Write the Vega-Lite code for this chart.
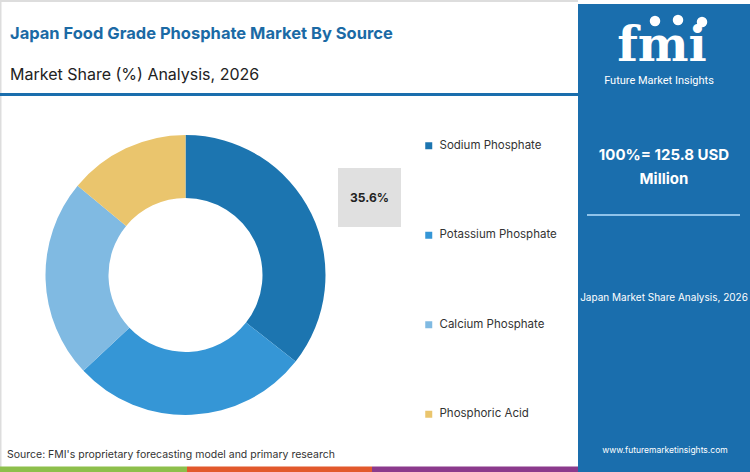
{
  "$schema": "https://vega.github.io/schema/vega-lite/v6.json",
  "width": 750,
  "height": 472,
  "padding": 0,
  "autosize": {"type": "fit", "contains": "padding"},
  "background": "white",
  "config": {
    "view": {"stroke": null},
    "font": "Inter",
    "legend": {
      "orient": "none",
      "legendX": 423,
      "legendY": 140,
      "title": null,
      "symbolType": "square",
      "symbolSize": 49,
      "symbolStrokeWidth": 0,
      "labelFont": "Inter",
      "labelFontSize": 11.5,
      "labelColor": "#333333",
      "labelOffset": 5,
      "rowPadding": 76.5
    }
  },
  "data": {
    "values": [
      {"source": "Sodium Phosphate", "share": 35.6},
      {"source": "Potassium Phosphate", "share": 27.4},
      {"source": "Calcium Phosphate", "share": 23.0},
      {"source": "Phosphoric Acid", "share": 14.0}
    ]
  },
  "layer": [
    {
      "data": {"values": [{}]},
      "mark": {"type": "rect", "color": "#dddddd"},
      "encoding": {
        "x": {"datum": 0, "type": "quantitative", "scale": {"domain": [0, 750], "nice": false, "zero": false}, "axis": null},
        "x2": {"datum": 578},
        "y": {"datum": 0, "type": "quantitative", "scale": {"domain": [0, 472], "nice": false, "zero": false, "reverse": true}, "axis": null},
        "y2": {"datum": 2}
      }
    },
    {
      "data": {"values": [{}]},
      "mark": {"type": "rect", "color": "#dddddd"},
      "encoding": {
        "x": {"datum": 0, "type": "quantitative"},
        "x2": {"datum": 1.5},
        "y": {"datum": 0, "type": "quantitative"},
        "y2": {"datum": 467}
      }
    },
    {
      "data": {"values": [{}]},
      "mark": {"type": "rect", "color": "#1a6ead"},
      "encoding": {
        "x": {"datum": 0, "type": "quantitative"},
        "x2": {"datum": 578},
        "y": {"datum": 93, "type": "quantitative"},
        "y2": {"datum": 96}
      }
    },
    {
      "data": {"values": [{}]},
      "mark": {"type": "rect", "color": "#1a6ead"},
      "encoding": {
        "x": {"datum": 578, "type": "quantitative"},
        "x2": {"datum": 750},
        "y": {"datum": 4, "type": "quantitative"},
        "y2": {"datum": 472}
      }
    },
    {
      "data": {"values": [{}]},
      "mark": {"type": "rect", "color": "#8dbf4b"},
      "encoding": {
        "x": {"datum": 0, "type": "quantitative"},
        "x2": {"datum": 187},
        "y": {"datum": 466.5, "type": "quantitative"},
        "y2": {"datum": 472}
      }
    },
    {
      "data": {"values": [{}]},
      "mark": {"type": "rect", "color": "#e2592c"},
      "encoding": {
        "x": {"datum": 187, "type": "quantitative"},
        "x2": {"datum": 372},
        "y": {"datum": 466.5, "type": "quantitative"},
        "y2": {"datum": 472}
      }
    },
    {
      "data": {"values": [{}]},
      "mark": {"type": "rect", "color": "#8b3a8c"},
      "encoding": {
        "x": {"datum": 372, "type": "quantitative"},
        "x2": {"datum": 578},
        "y": {"datum": 466.5, "type": "quantitative"},
        "y2": {"datum": 472}
      }
    },
    {
      "data": {"values": [{}]},
      "mark": {"type": "rule", "color": "#8fc3ea", "strokeWidth": 2},
      "encoding": {
        "x": {"datum": 587, "type": "quantitative"},
        "x2": {"datum": 740},
        "y": {"datum": 215, "type": "quantitative"}
      }
    },
    {
      "mark": {"type": "arc", "outerRadius": 140, "innerRadius": 77},
      "encoding": {
        "x": {"datum": 185.5, "type": "quantitative"},
        "y": {"datum": 275, "type": "quantitative"},
        "theta": {"field": "share", "type": "quantitative", "stack": true},
        "order": {"field": "share", "sort": "descending"},
        "color": {
          "field": "source",
          "type": "nominal",
          "sort": ["Sodium Phosphate", "Potassium Phosphate", "Calcium Phosphate", "Phosphoric Acid"],
          "scale": {
            "domain": ["Sodium Phosphate", "Potassium Phosphate", "Calcium Phosphate", "Phosphoric Acid"],
            "range": ["#1c75b0", "#3596d6", "#80bae2", "#eac56d"]
          }
        }
      }
    },
    {
      "data": {"values": [{}]},
      "mark": {"type": "rect", "color": "#e0e0e0"},
      "encoding": {
        "x": {"datum": 338, "type": "quantitative"},
        "x2": {"datum": 401},
        "y": {"datum": 168, "type": "quantitative"},
        "y2": {"datum": 227}
      }
    },
    {
      "transform": [
        {"filter": "datum.source === 'Sodium Phosphate'"},
        {"calculate": "format(datum.share, '.1f') + '%'", "as": "label"}
      ],
      "mark": {"type": "text", "fontSize": 12, "fontWeight": "bold", "color": "#222222", "align": "center", "baseline": "middle"},
      "encoding": {
        "x": {"datum": 369.5, "type": "quantitative"},
        "y": {"datum": 198, "type": "quantitative"},
        "text": {"field": "label"}
      }
    },
    {
      "data": {"values": [{"t": "Japan Food Grade Phosphate Market By Source"}]},
      "mark": {"type": "text", "fontSize": 16.5, "fontWeight": "bold", "color": "#1b6aa5", "align": "left", "baseline": "middle"},
      "encoding": {
        "x": {"datum": 10, "type": "quantitative"},
        "y": {"datum": 34, "type": "quantitative"},
        "text": {"field": "t"}
      }
    },
    {
      "data": {"values": [{"t": "Market Share (%) Analysis, 2026"}]},
      "mark": {"type": "text", "fontSize": 16, "color": "#222222", "align": "left", "baseline": "middle"},
      "encoding": {
        "x": {"datum": 10, "type": "quantitative"},
        "y": {"datum": 75, "type": "quantitative"},
        "text": {"field": "t"}
      }
    },
    {
      "data": {"values": [{"t": "Source: FMI's proprietary forecasting model and primary research"}]},
      "mark": {"type": "text", "fontSize": 10.5, "color": "#333333", "align": "left", "baseline": "middle"},
      "encoding": {
        "x": {"datum": 7, "type": "quantitative"},
        "y": {"datum": 455, "type": "quantitative"},
        "text": {"field": "t"}
      }
    },
    {
      "data": {"values": [{"t": "fmi"}]},
      "mark": {"type": "text", "font": "DejaVu Serif", "fontSize": 48, "fontWeight": "bold", "color": "white", "align": "center", "baseline": "alphabetic"},
      "encoding": {
        "x": {"datum": 662, "type": "quantitative"},
        "y": {"datum": 61, "type": "quantitative"},
        "text": {"field": "t"}
      }
    },
    {
      "data": {"values": [{}]},
      "mark": {"type": "point", "filled": true, "color": "white", "opacity": 1, "size": 110},
      "encoding": {
        "x": {"datum": 655, "type": "quantitative"},
        "y": {"datum": 21, "type": "quantitative"}
      }
    },
    {
      "data": {"values": [{}]},
      "mark": {"type": "point", "filled": true, "color": "white", "opacity": 1, "size": 110},
      "encoding": {
        "x": {"datum": 678, "type": "quantitative"},
        "y": {"datum": 20, "type": "quantitative"}
      }
    },
    {
      "data": {"values": [{}]},
      "mark": {"type": "point", "filled": true, "color": "white", "opacity": 1, "size": 110},
      "encoding": {
        "x": {"datum": 702, "type": "quantitative"},
        "y": {"datum": 22, "type": "quantitative"}
      }
    },
    {
      "data": {"values": [{"t": "Future Market Insights"}]},
      "mark": {"type": "text", "font": "Roboto", "fontSize": 11, "color": "white", "align": "center", "baseline": "middle"},
      "encoding": {
        "x": {"datum": 659, "type": "quantitative"},
        "y": {"datum": 81, "type": "quantitative"},
        "text": {"field": "t"}
      }
    },
    {
      "data": {"values": [{"t": "100%= 125.8 USD"}, {"t": "Million"}]},
      "transform": [{"window": [{"op": "row_number", "as": "line"}]}],
      "mark": {"type": "text", "fontSize": 15, "fontWeight": "bold", "color": "white", "align": "center", "baseline": "middle"},
      "encoding": {
        "x": {"datum": 664, "type": "quantitative"},
        "y": {"datum": 155, "type": "quantitative"},
        "yOffset": {"field": "line", "type": "quantitative", "scale": {"domain": [1, 2], "range": [0, 24]}},
        "text": {"field": "t"}
      }
    },
    {
      "data": {"values": [{"t": "Japan Market Share Analysis, 2026"}]},
      "mark": {"type": "text", "fontSize": 10, "color": "white", "align": "center", "baseline": "middle"},
      "encoding": {
        "x": {"datum": 664, "type": "quantitative"},
        "y": {"datum": 298, "type": "quantitative"},
        "text": {"field": "t"}
      }
    },
    {
      "data": {"values": [{"t": "www.futuremarketinsights.com"}]},
      "mark": {"type": "text", "fontSize": 8.5, "color": "white", "align": "center", "baseline": "middle"},
      "encoding": {
        "x": {"datum": 665, "type": "quantitative"},
        "y": {"datum": 450, "type": "quantitative"},
        "text": {"field": "t"}
      }
    }
  ]
}
